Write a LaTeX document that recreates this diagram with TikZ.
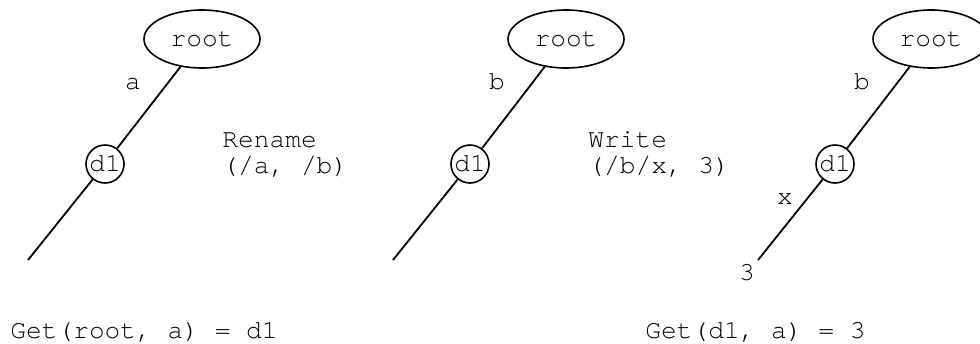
\documentclass[tikz,border=0pt]{standalone}
\usepackage{fontspec}
\setmainfont{TeX Gyre Cursor}
\usetikzlibrary{shapes.geometric}
\begin{document}
\begin{tikzpicture}[x=0.5pt,y=-0.5pt,
  every node/.style={font=\fontsize{13.1}{13.1}\selectfont},
  edge/.style={line width=0.9pt},
  rootnode/.style={draw,ellipse,line width=0.8pt,minimum width=58pt,minimum height=29pt,inner sep=0pt},
  dnode/.style={draw,circle,line width=0.8pt,minimum size=19pt,inner sep=0pt},
  txt/.style={inner sep=0pt,anchor=base west},
  lbl/.style={inner sep=0pt,anchor=base}]
\useasboundingbox (0,0) rectangle (980,343);
% panel 1
\node[rootnode] (r1) at (202,39) {root};
\node[dnode] (d1a) at (105,164) {d1};
\coordinate (e1) at (28,260);
\draw[edge] (r1) -- (d1a);
\draw[edge] (d1a) -- (e1);
\node[lbl] (la) at (133,89) {a};
\node[txt] (op1a) at (222,147) {Rename};
\node[txt] (op1b) at (222,173) {(/a, /b)};
\node[txt] (g1) at (10,338) {Get(root, a) = d1};
% panel 2
\node[rootnode] (r2) at (566,39) {root};
\node[dnode] (d1b) at (470,164) {d1};
\coordinate (e2) at (393,260);
\draw[edge] (r2) -- (d1b);
\draw[edge] (d1b) -- (e2);
\node[lbl] (lb2) at (497,89) {b};
\node[txt] (op2a) at (588,147) {Write};
\node[txt] (op2b) at (588,173) {(/b/x, 3)};
% panel 3
\node[rootnode] (r3) at (931,39) {root};
\node[dnode] (d1c) at (835,164) {d1};
\coordinate (e3) at (758,260);
\draw[edge] (r3) -- (d1c);
\draw[edge] (d1c) -- (e3);
\node[lbl] (lb3) at (862,89) {b};
\node[lbl] (lx) at (785,204) {x};
\node[lbl] (v3) at (747,280) {3};
\node[txt] (g3) at (645,338) {Get(d1, a) = 3};
\end{tikzpicture}
\end{document}
